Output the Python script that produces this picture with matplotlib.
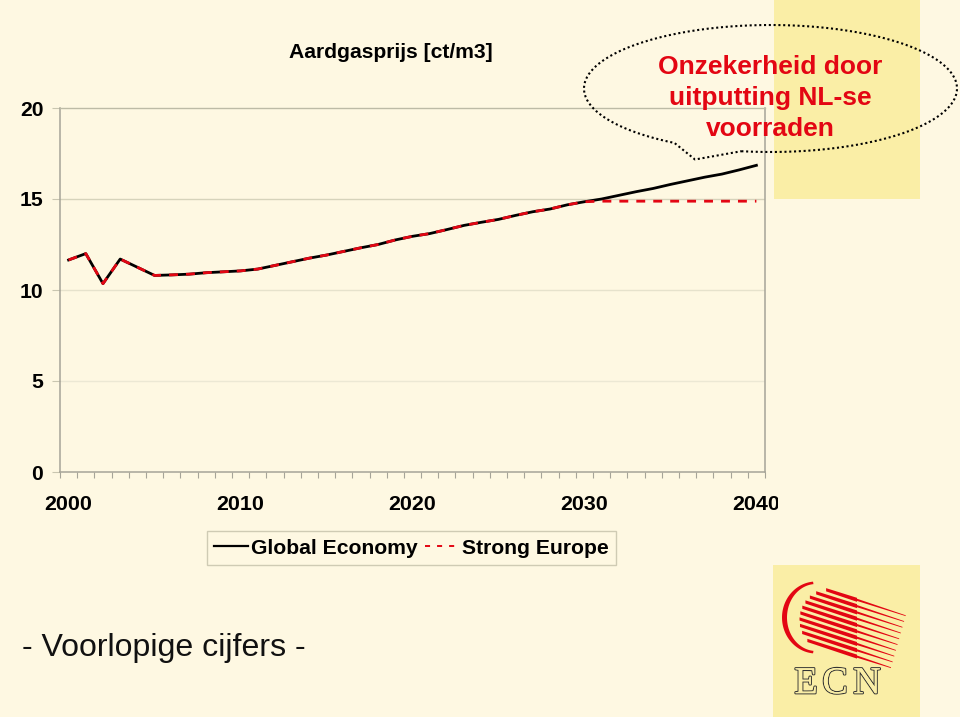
import numpy as np
import matplotlib
matplotlib.use('Agg')
import matplotlib.pyplot as plt
import matplotlib.patheffects as pe
from matplotlib.patches import Rectangle, Polygon
from matplotlib.transforms import Bbox

plt.rcParams['font.family'] = ['Liberation Sans', 'DejaVu Sans']

W, H = 960, 717
BG = '#fef8e2'
YEL = '#faeea6'
RED = '#e30613'

# values
years = np.arange(2000, 2041)
global_economy = [11.65, 12.0, 10.35, 11.7, 11.25, 10.8, 10.83, 10.87, 10.95, 11.0,
                  11.05, 11.15, 11.35, 11.55, 11.75, 11.92, 12.12, 12.32, 12.5, 12.75,
                  12.95, 13.1, 13.32, 13.55, 13.72, 13.88, 14.1, 14.3, 14.45, 14.68,
                  14.85, 15.0, 15.2, 15.4, 15.58, 15.8, 16.0, 16.2, 16.37, 16.6, 16.85]
strong_europe = [11.65, 12.0, 10.35, 11.7, 11.25, 10.8, 10.83, 10.87, 10.95, 11.0,
                 11.05, 11.15, 11.35, 11.55, 11.75, 11.92, 12.12, 12.32, 12.5, 12.75,
                 12.95, 13.1, 13.32, 13.55, 13.72, 13.88, 14.1, 14.3, 14.45, 14.68,
                 14.85, 14.88, 14.88, 14.88, 14.88, 14.88, 14.88, 14.88, 14.88, 14.88, 14.88]
y_ticks = [0, 5, 10, 15, 20]
x_labels = [2000, 2010, 2020, 2030, 2040]

fig = plt.figure(figsize=(W / 100, H / 100), dpi=100, facecolor=BG)

# overlay in pixel coords for slide decoration, behind the chart
bg = fig.add_axes([0, 0, 1, 1], zorder=0)
bg.set_xlim(0, W)
bg.set_ylim(H, 0)
bg.axis('off')
bg.add_patch(Rectangle((774, 0), 146, 199, fc=YEL, ec='none'))
bg.add_patch(Rectangle((773, 565), 147, 152, fc=YEL, ec='none'))

# chart
ax = fig.add_axes([60 / W, 1 - 472 / H, 705 / W, 364 / H], zorder=1)
ax.patch.set_alpha(0)
ax.set_xlim(1999.5, 2040.5)
ax.set_ylim(0, 20)
for v, c in zip(y_ticks[1:-1], ['#ece8d4', '#e6e2cc', '#d6d3bb']):
    ax.axhline(v, color=c, lw=1, zorder=1)
for s in ['right', 'left', 'bottom']:
    ax.spines[s].set_color('#a6a498')
    ax.spines[s].set_linewidth(1.1)
ax.spines['top'].set_color('#bdbba6')
ax.spines['top'].set_linewidth(1)
ax.set_yticks(y_ticks)
ax.set_xticks(np.arange(1999.5, 2041))
ax.set_xticklabels([])
ax.tick_params(axis='x', length=4, color='#a6a498', width=0.8)
ax.tick_params(axis='y', length=6, color='#c9c6b0', width=0.8, pad=6, labelsize=15.2)
for lab in ax.get_yticklabels():
    lab.set_fontweight('bold')

l1, = ax.plot(years, global_economy, color='black', lw=2.0, label='Global Economy', zorder=3)
l2, = ax.plot(years, strong_europe, color=RED, lw=2.0, dashes=(3.2, 2.9),
              label='Strong Europe', zorder=4)

for y in x_labels:
    t = ax.text(y, -1.8, str(y), ha='center', va='center', fontsize=15.4, fontweight='bold',
                clip_on=True)
    # 2040 gets cut off in the original
    t.set_clip_box(Bbox([[0, 0], [778, H]]))

leg = fig.legend(handles=[l1, l2], ncol=2, loc='center left',
                 bbox_to_anchor=(207 / W, 1 - 548 / H), frameon=True, fancybox=False,
                 edgecolor='#cfcbb4', facecolor=BG, framealpha=1,
                 prop={'size': 15.2, 'weight': 'bold'}, handlelength=1.6,
                 handletextpad=0.15, columnspacing=0.35, borderpad=0.34, borderaxespad=0)
leg.get_frame().set_linewidth(1)
leg.get_lines()[1].set_dashes((2.6, 3.6))
leg.get_lines()[1].set_linewidth(1.4)
leg.get_lines()[0].set_linewidth(1.6)

# front overlay, pixel coords
top = fig.add_axes([0, 0, 1, 1], zorder=2)
top.set_xlim(0, W)
top.set_ylim(H, 0)
top.axis('off')
top.patch.set_alpha(0)

top.text(391, 53, 'Aardgasprijs [ct/m3]', ha='center', va='center', fontsize=15.2, fontweight='bold')
top.text(164, 648, '- Voorlopige cijfers -', ha='center', va='center', fontsize=23.1, color='#111111')

# callout bubble, gap in the ellipse at the tail
cx, cy, rx, ry = 770.5, 88.5, 186.5, 63.5
a = np.radians(np.linspace(261, 599, 400))
pts = np.column_stack([cx + rx * np.cos(a), cy - ry * np.sin(a)])
pts = np.vstack([pts, [[695, 159.5]], pts[:1]])
top.plot(pts[:, 0], pts[:, 1], color='black', lw=1.5, dashes=(1, 1.3))

for txt, yy in zip(['Onzekerheid door', 'uitputting NL-se', 'voorraden'], [67, 98, 129]):
    top.text(770.5, yy, txt, color=RED, ha='center', va='center', fontsize=19, fontweight='bold')

# ECN logo: crescent
th = np.radians(np.linspace(95, 265, 60))
ox, oy = 816, 617.5
outer = np.column_stack([ox + 34 * np.cos(th), oy - 36 * np.sin(th)])
inner = np.column_stack([ox + 29 * np.cos(th[::-1]), oy - 33.5 * np.sin(th[::-1])])
top.add_patch(Polygon(np.vstack([outer, inner]), fc=RED, ec='none'))

# logo stripes: thick part over the disc, thin tail to the lower right
dcx, dcy, dr = 830, 620, 30.5
sl = 0.326
tip_x = np.linspace(905.7, 891, 10)
tip_y = np.linspace(615.7, 667.7, 10)
for xt, yt in zip(tip_x, tip_y):
    # where the stripe line meets the disc on its left side
    c = yt - sl * xt
    aa = 1 + sl ** 2
    bb = 2 * (sl * (c - dcy) - dcx)
    cc = dcx ** 2 + (c - dcy) ** 2 - dr ** 2
    x0 = (-bb - np.sqrt(max(bb ** 2 - 4 * aa * cc, 0))) / (2 * aa)
    x1 = 857
    y0 = sl * x0 + c
    y1 = sl * x1 + c
    top.add_patch(Polygon([[x0, y0 - 1.6], [x1, y1 - 2.0], [x1, y1 - 1.1], [xt, yt - 0.4],
                           [xt, yt + 0.4], [x1, y1 + 1.1], [x1, y1 + 2.0], [x0, y0 + 1.6]],
                          fc=RED, ec='none'))

# outlined ECN letters
for ch, xx in zip('ECN', [806, 835, 867]):
    top.text(xx, 684, ch, ha='center', va='center', fontsize=27.5, family='Liberation Serif',
             color=YEL, path_effects=[pe.withStroke(linewidth=1.6, foreground='#333333'),
                                      pe.Normal()])

fig.savefig('out.png', dpi=100, facecolor=BG)
